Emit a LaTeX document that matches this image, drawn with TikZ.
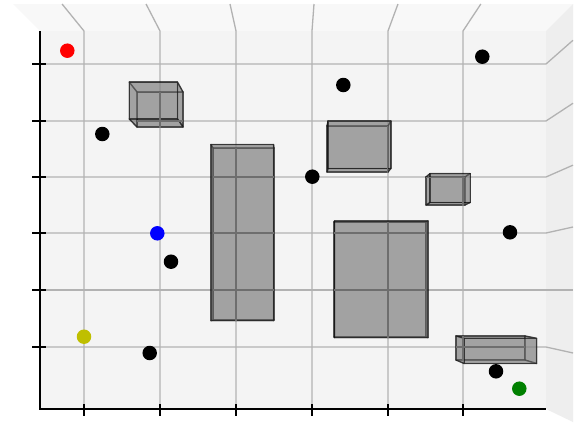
\documentclass[tikz,border=0pt]{standalone}
\usepackage{tikz}
\definecolor{paneF}{HTML}{F4F4F4}
\definecolor{paneT}{HTML}{F8F8F8}
\definecolor{paneR}{HTML}{EEEEEE}
\definecolor{gridout}{HTML}{B2B2B2}
\definecolor{gridin}{HTML}{6E6E6E}
\definecolor{ptyellow}{HTML}{BFBF00}
\definecolor{ptgreen}{HTML}{008000}
\tikzset{
  gridline/.style={draw=gridout, line width=1.3pt},
  gridinner/.style={draw=gridin, line width=1.3pt},
  axisline/.style={draw=black, line width=1.5pt},
  tickline/.style={draw=black, line width=1.4pt},
  boxface/.style={fill=gray, fill opacity=0.45, draw=black, draw opacity=0.5, line width=1.3pt, line join=round},
  pt/.style={circle, inner sep=0pt, minimum size=14.5pt, draw=none},
}
\newcommand{\mycuboid}[5]{%
  \pgfmathsetmacro{\cbAxa}{#1}\pgfmathsetmacro{\cbAya}{#2}%
  \pgfmathsetmacro{\cbAxb}{#3}\pgfmathsetmacro{\cbAyb}{#4}%
  \pgfmathsetmacro{\cbBxa}{293+(#1-293)*#5}\pgfmathsetmacro{\cbBya}{290+(#2-290)*#5}%
  \pgfmathsetmacro{\cbBxb}{293+(#3-293)*#5}\pgfmathsetmacro{\cbByb}{290+(#4-290)*#5}%
  \path[boxface] (\cbAxa,\cbAya) rectangle (\cbAxb,\cbAyb);
  \path[boxface] (\cbAxa,\cbAya) -- (\cbAxb,\cbAya) -- (\cbBxb,\cbBya) -- (\cbBxa,\cbBya) -- cycle;
  \path[boxface] (\cbAxb,\cbAya) -- (\cbAxb,\cbAyb) -- (\cbBxb,\cbByb) -- (\cbBxb,\cbBya) -- cycle;
  \path[boxface] (\cbAxa,\cbAyb) -- (\cbAxb,\cbAyb) -- (\cbBxb,\cbByb) -- (\cbBxa,\cbByb) -- cycle;
  \path[boxface] (\cbAxa,\cbAya) -- (\cbAxa,\cbAyb) -- (\cbBxa,\cbByb) -- (\cbBxa,\cbBya) -- cycle;
  \path[boxface] (\cbBxa,\cbBya) rectangle (\cbBxb,\cbByb);
  \begin{scope}
    \clip (\cbAxa,\cbAya) rectangle (\cbAxb,\cbAyb);
    \foreach \gx in {84,160,236,312,388,463}{ \draw[gridinner] (\gx,409) -- (\gx,31); }
    \foreach \gy in {64,121,177,233,290,347}{ \draw[gridinner] (40,\gy) -- (546,\gy); }
  \end{scope}
}
\begin{document}
\begin{tikzpicture}[x=1pt,y=-1pt]
\useasboundingbox (0,0) rectangle (576,423);
\fill[white] (0,0) rectangle (576,423);
% panes
\fill[paneT] (13,4) -- (573,4) -- (546,31) -- (40,31) -- cycle;
\fill[paneR] (546,31) -- (573,4) -- (573,422) -- (546,409) -- cycle;
\fill[paneF] (40,31) rectangle (546,409);
% grid
\foreach \gx in {84,160,236,312,388,463}{
  \pgfmathsetmacro{\gxb}{293+(\gx-293)*1.105}
  \draw[gridline] (\gx,409) -- (\gx,31) -- (\gxb,4);
}
\foreach \gy in {64,121,177,233,290,347}{
  \pgfmathsetmacro{\gyb}{290+(\gy-290)*1.105}
  \draw[gridline] (40,\gy) -- (546,\gy) -- (573,\gyb);
}
% boxes
\mycuboid{137}{92}{183}{127}{1.05}
\mycuboid{213}{148}{274}{320}{1.025}
\mycuboid{327}{126}{388}{172}{1.03}
\mycuboid{426}{177}{465}{205}{1.03}
\mycuboid{334}{222}{426}{337}{1.015}
\mycuboid{456}{336}{525}{360}{1.05}
% axes
\draw[axisline] (40,31) -- (40,409) -- (546,409);
\foreach \ty in {64,121,177,233,290,347}{ \draw[tickline] (32,\ty) -- (46,\ty); }
\foreach \tx in {84,160,236,312,388,463}{ \draw[tickline] (\tx,404) -- (\tx,416); }
% points
\node[pt, fill=red] (p1) at (67.3,50.7) {};
\node[pt, fill=black] (p2) at (482.3,56.7) {};
\node[pt, fill=black] (p3) at (343.3,85) {};
\node[pt, fill=black] (p4) at (102.3,134) {};
\node[pt, fill=black] (p5) at (312.3,176.7) {};
\node[pt, fill=blue] (p6) at (157.3,233.3) {};
\node[pt, fill=black] (p7) at (510,232.3) {};
\node[pt, fill=black] (p8) at (171,261.7) {};
\node[pt, fill=ptyellow] (p9) at (84,336.7) {};
\node[pt, fill=black] (p10) at (149.7,353) {};
\node[pt, fill=black] (p11) at (496,371.3) {};
\node[pt, fill=ptgreen] (p12) at (519.3,388.7) {};
\end{tikzpicture}
\end{document}
